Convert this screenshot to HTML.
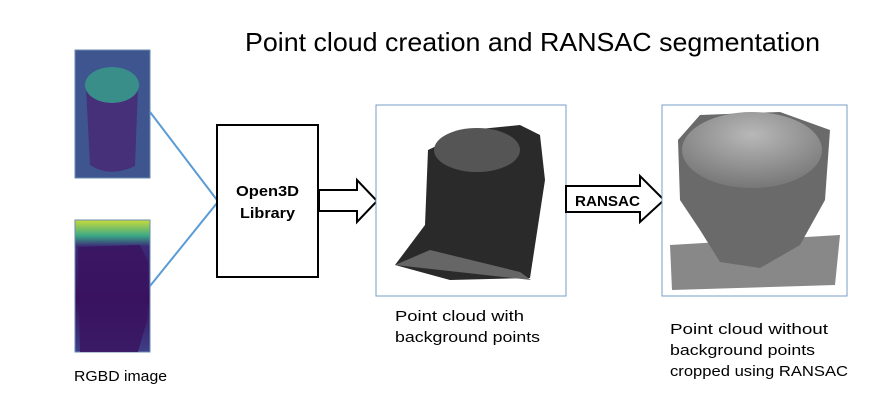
<!DOCTYPE html>
<html><head><style>
body{margin:0;background:#fff;width:881px;height:409px;overflow:hidden;font-family:"Liberation Sans",sans-serif}
</style></head><body>
<svg width="881" height="409" xmlns="http://www.w3.org/2000/svg">
<defs>
<linearGradient id="dep" x1="0" y1="0" x2="0" y2="1">
<stop offset="0" stop-color="#c8dc3a"/><stop offset="0.12" stop-color="#3aa886"/><stop offset="0.2" stop-color="#3c2a78"/><stop offset="0.6" stop-color="#3a0f5a"/><stop offset="1" stop-color="#3e3f88"/></linearGradient>
<radialGradient id="top" cx="0.5" cy="0.3" r="0.7"><stop offset="0" stop-color="#b8b8b8"/><stop offset="1" stop-color="#777"/></radialGradient>
</defs>
<text x="245" y="51" font-size="26" textLength="575" lengthAdjust="spacingAndGlyphs" fill="#000">Point cloud creation and RANSAC segmentation</text>
<rect x="75" y="50" width="75" height="128" fill="#3e5590" stroke="#6b8bb0"/>
<path d="M86 88 L90 165 Q110 178 135 166 L138 86 Z" fill="#46307a"/>
<ellipse cx="112" cy="85" rx="27" ry="18" fill="#3a8e8a"/>
<rect x="75" y="220" width="75" height="132" fill="url(#dep)" stroke="#6b8bb0"/>
<path d="M78 247 L140 245 L148 262 L147 320 L138 352 L80 352 Z" fill="#3a1460" opacity="0.85"/>
<line x1="150" y1="112" x2="217" y2="200" stroke="#5b9bd5" stroke-width="2"/>
<line x1="150" y1="286" x2="217" y2="203" stroke="#5b9bd5" stroke-width="2"/>
<rect x="217" y="125" width="101" height="152" fill="#fff" stroke="#000" stroke-width="2"/>
<text x="236" y="196" font-size="15" font-weight="bold" textLength="63" lengthAdjust="spacingAndGlyphs">Open3D</text>
<text x="240" y="218" font-size="15" font-weight="bold" textLength="55" lengthAdjust="spacingAndGlyphs">Library</text>
<path d="M319 190 L357 190 L357 180 L377 201 L357 222 L357 211 L319 211 Z" fill="#fff" stroke="#000" stroke-width="2"/>
<rect x="376" y="105" width="190" height="191" fill="#fff" stroke="#7a9cc4"/>
<path d="M395 265 L425 225 L428 150 L470 130 L520 125 L540 135 L545 180 L530 278 L450 280 Z" fill="#2a2a2a"/>
<path d="M395 265 L430 250 L520 272 L531 280 Z" fill="#666"/>
<ellipse cx="477" cy="150" rx="43" ry="22" fill="#555"/>
<path d="M566 186 L640 186 L640 176 L664 200 L640 222 L640 212 L566 212 Z" fill="#fff" stroke="#000" stroke-width="2"/>
<text x="575" y="206" font-size="15" font-weight="bold" textLength="65" lengthAdjust="spacingAndGlyphs">RANSAC</text>
<rect x="662" y="105" width="185" height="191" fill="#fff" stroke="#7a9cc4"/>
<path d="M670 245 L840 235 L835 285 L672 290 Z" fill="#888"/>
<path d="M678 140 L700 115 L780 112 L830 130 L825 200 L800 245 L760 268 L720 262 L700 230 L680 200 Z" fill="#6a6a6a"/>
<ellipse cx="752" cy="150" rx="70" ry="38" fill="url(#top)"/>
<g font-size="15" fill="#000" lengthAdjust="spacingAndGlyphs">
<text x="74" y="381" textLength="93" lengthAdjust="spacingAndGlyphs">RGBD image</text>
<text x="395" y="321" textLength="129" lengthAdjust="spacingAndGlyphs">Point cloud  with</text>
<text x="395" y="342" textLength="145" lengthAdjust="spacingAndGlyphs">background points</text>
<text x="670" y="334" textLength="158" lengthAdjust="spacingAndGlyphs">Point cloud  without</text>
<text x="670" y="355" textLength="145" lengthAdjust="spacingAndGlyphs">background points</text>
<text x="670" y="376" textLength="178" lengthAdjust="spacingAndGlyphs">cropped using RANSAC</text>
</g>
</svg>
</body></html>
